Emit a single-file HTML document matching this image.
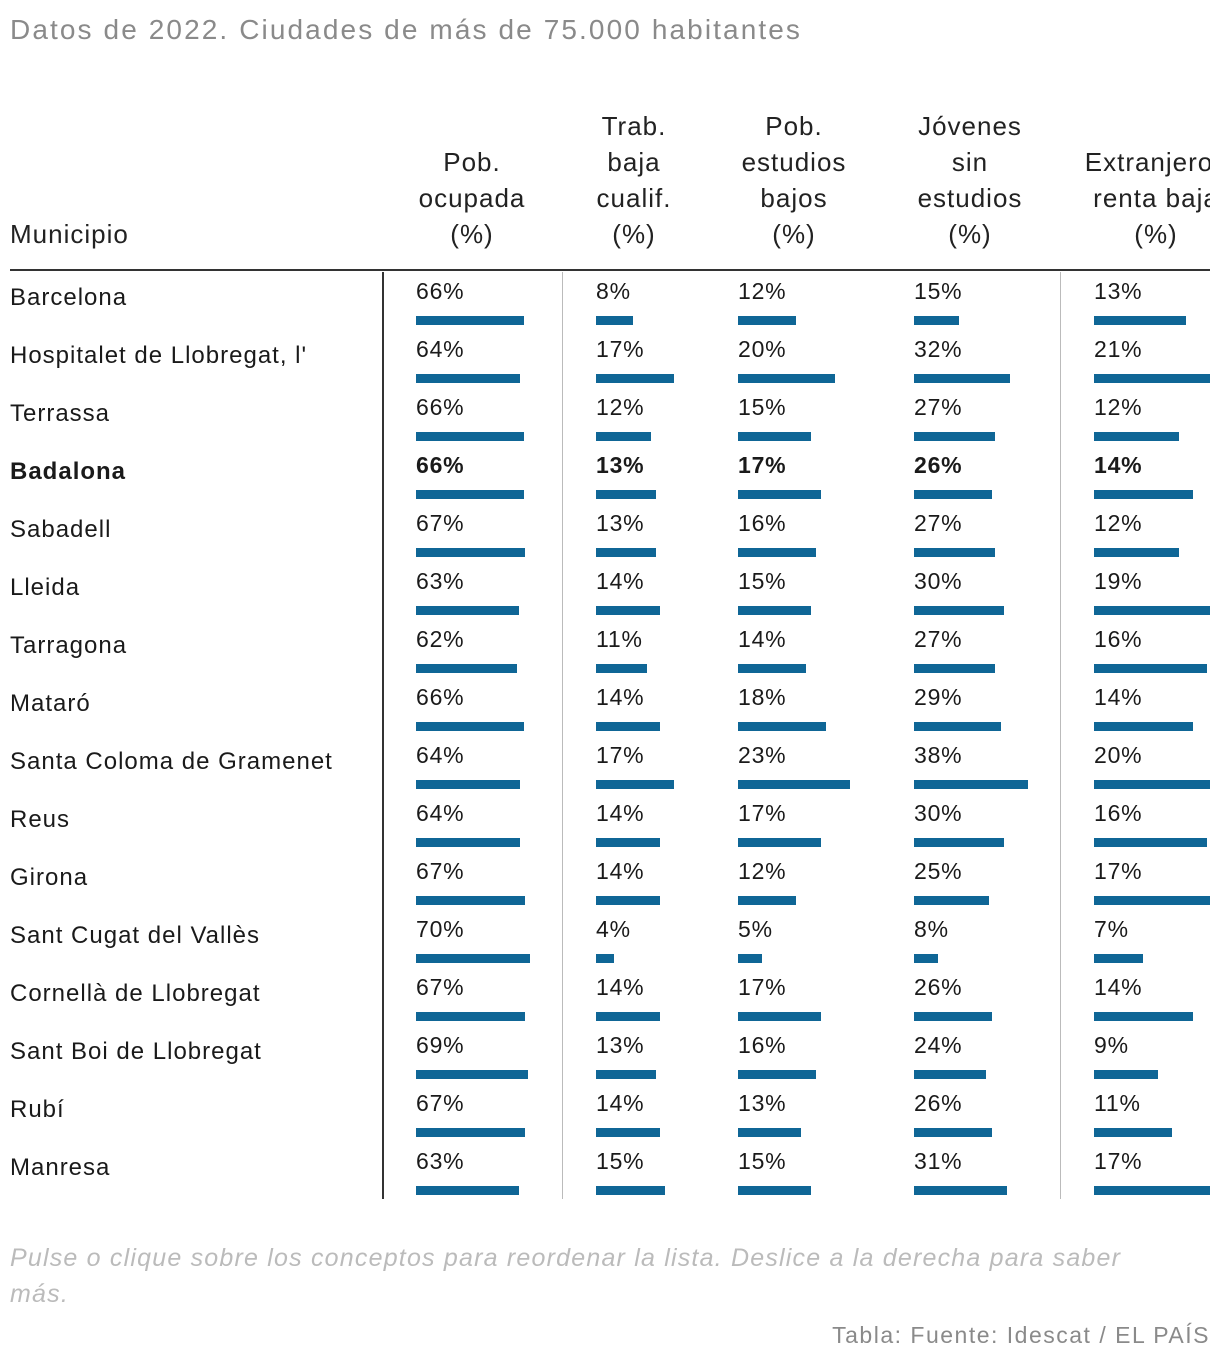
<!DOCTYPE html>
<html><head><meta charset="utf-8">
<style>
body{margin:0;width:1220px;height:1366px;background:#fff;font-family:"Liberation Sans",sans-serif;position:relative;overflow:hidden;color:#1a1a1a}
.abs{position:absolute;white-space:nowrap}
#wrap{position:absolute;left:0;top:0;width:1210px;height:1366px;overflow:hidden}
.hd{position:absolute;text-align:center;font-size:26px;line-height:36px;color:#222;letter-spacing:1px}
.cell{position:absolute;font-size:23px;letter-spacing:0.8px}
.lbl{font-size:24px;letter-spacing:1px}
.bar{position:absolute;height:9px;background:#0f6696}
</style></head><body>
<div class="abs" style="left:10px;top:14px;font-size:28px;color:#8a8a8a;letter-spacing:2.1px">Datos de 2022. Ciudades de más de 75.000 habitantes</div>
<div id="wrap">
<div class="hd" style="left:10px;top:216px;text-align:left">Municipio</div>
<div class="hd" style="left:372px;width:200px;top:144px">Pob.<br>ocupada<br>(%)</div>
<div class="hd" style="left:534px;width:200px;top:108px">Trab.<br>baja<br>cualif.<br>(%)</div>
<div class="hd" style="left:694px;width:200px;top:108px">Pob.<br>estudios<br>bajos<br>(%)</div>
<div class="hd" style="left:870px;width:200px;top:108px">Jóvenes<br>sin<br>estudios<br>(%)</div>
<div class="hd" style="left:1066px;width:180px;top:144px">Extranjeros<br>renta baja<br>(%)</div>
<div class="abs" style="left:10px;top:269px;width:1200px;height:2px;background:#333"></div>
<div class="abs" style="left:382px;top:272px;width:2px;height:927px;background:#333"></div>
<div class="abs" style="left:562px;top:272px;width:1px;height:927px;background:#bbb"></div>
<div class="abs" style="left:1060px;top:272px;width:1px;height:927px;background:#bbb"></div>
<div id="rows"></div>
</div>
<div class="abs" style="left:10px;top:1240px;font-size:25px;line-height:36px;color:#bbb;font-style:italic;white-space:normal;width:1160px;letter-spacing:1.2px">Pulse o clique sobre los conceptos para reordenar la lista. Deslice a la derecha para saber más.</div>
<div class="abs" style="right:10px;top:1322px;font-size:23px;color:#8a8a8a;letter-spacing:1.5px">Tabla: Fuente: Idescat / EL PAÍS</div>
<script>
const cities=["Barcelona","Hospitalet de Llobregat, l'","Terrassa","Badalona","Sabadell","Lleida","Tarragona","Mataró","Santa Coloma de Gramenet","Reus","Girona","Sant Cugat del Vallès","Cornellà de Llobregat","Sant Boi de Llobregat","Rubí","Manresa"];
const pobOcupada=[66,64,66,66,67,63,62,66,64,64,67,70,67,69,67,63];
const trabBaja=[8,17,12,13,13,14,11,14,17,14,14,4,14,13,14,15];
const estudiosBajos=[12,20,15,17,16,15,14,18,23,17,12,5,17,16,13,15];
const jovenes=[15,32,27,26,27,30,27,29,38,30,25,8,26,24,26,31];
const extranjeros=[13,21,12,14,12,19,16,14,20,16,17,7,14,9,11,17];
const highlight="Badalona";
const cols=[{v:pobOcupada,x:416,s:1.63,n:'pob-ocupada'},{v:trabBaja,x:596,s:4.6,n:'trab-baja'},{v:estudiosBajos,x:738,s:4.87,n:'estudios-bajos'},{v:jovenes,x:914,s:3.0,n:'jovenes'},{v:extranjeros,x:1094,s:7.07,n:'extranjeros'}];
const rows=document.getElementById('rows');
cities.forEach((c,i)=>{
  const top=272+58*i;
  const b=c===highlight;
  const t=document.createElement('div');
  t.className='cell lbl';
  
  
  t.style.left='10px';t.style.top=(top+12)+'px';
  if(b)t.style.fontWeight='bold';
  t.textContent=c;rows.appendChild(t);
  cols.forEach(col=>{
    const v=col.v[i];
    const l=document.createElement('div');
    l.className='cell';
    
    
    l.style.left=col.x+'px';l.style.top=(top+6)+'px';
    if(b)l.style.fontWeight='bold';
    l.textContent=v+'%';rows.appendChild(l);
    const r=document.createElement('div');
    r.className='bar';
    
    
    r.style.left=col.x+'px';r.style.top=(top+44)+'px';
    r.style.width=(v*col.s)+'px';rows.appendChild(r);
  });
});
</script>
</body></html>
